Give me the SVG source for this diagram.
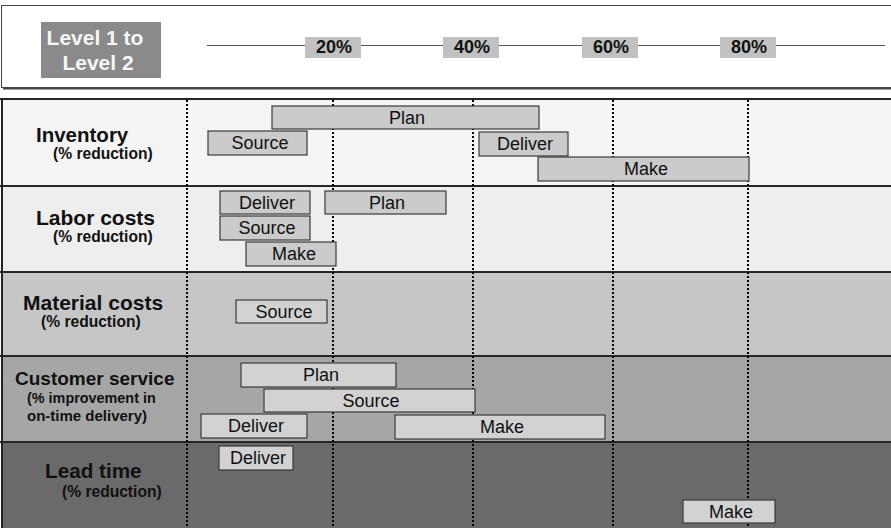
<svg xmlns="http://www.w3.org/2000/svg" width="891" height="528" viewBox="0 0 891 528">
  <style>
    .title { font-family: "Liberation Sans", Arial, sans-serif; font-weight: bold; fill: #111; }
    .sub { font-family: "Liberation Sans", Arial, sans-serif; font-weight: bold; fill: #111; }
    .pct { font-family: "Liberation Sans", Arial, sans-serif; font-weight: bold; font-size: 18px; fill: #111; text-anchor: middle; }
    .pctbox { fill: #c1c1c1; }
    .bar { stroke: #3a3a3a; stroke-width: 1.2; }
    .bar-a { fill: #cbcbcb; }
    .bar-b { fill: #d2d2d2; }
    .barlabel { font-family: "Liberation Sans", Arial, sans-serif; font-size: 18px; fill: #111; text-anchor: middle; }
    .divider { stroke: #262626; stroke-width: 2; }
    .grid { stroke: #000; stroke-width: 2; stroke-dasharray: 2 2; }
  </style>

  <rect width="891" height="528" fill="#ffffff"/>

  <!-- header panel with drop shadow -->
  <g id="header">
    <rect x="3" y="7.5" width="900" height="82" fill="#444"/>
    <rect x="1.5" y="5.5" width="900" height="82" fill="#ffffff" stroke="#444" stroke-width="1"/>
    <rect x="41" y="22" width="120" height="56" fill="#8a8a8a"/>
    <text x="95" y="45" font-family="'Liberation Sans', Arial, sans-serif" font-weight="bold" font-size="21" fill="#f6f6f6" text-anchor="middle">Level 1 to</text>
    <text x="98" y="70" font-family="'Liberation Sans', Arial, sans-serif" font-weight="bold" font-size="21" fill="#f6f6f6" text-anchor="middle">Level 2</text>
  </g>

  <!-- percentage scale -->
  <g id="axis">
    <line x1="207" y1="45.5" x2="885" y2="45.5" stroke="#555" stroke-width="1.2"/>
    <g id="tick-20"><rect class="pctbox" x="305" y="37" width="56" height="21"/><text class="pct" x="334" y="53">20%</text></g>
    <g id="tick-40"><rect class="pctbox" x="443" y="37" width="56" height="21"/><text class="pct" x="472" y="53">40%</text></g>
    <g id="tick-60"><rect class="pctbox" x="582" y="37" width="56" height="21"/><text class="pct" x="611" y="53">60%</text></g>
    <g id="tick-80"><rect class="pctbox" x="720" y="37" width="56" height="21"/><text class="pct" x="749" y="53">80%</text></g>
  </g>

  <!-- row backgrounds -->
  <g id="rows">
    <rect x="2" y="99" width="889" height="87" fill="#f4f4f4"/>
    <rect x="2" y="186" width="889" height="86" fill="#eeeeee"/>
    <rect x="2" y="272" width="889" height="84" fill="#c6c6c6"/>
    <rect x="2" y="356" width="889" height="86" fill="#a6a6a6"/>
    <rect x="2" y="442" width="889" height="86" fill="#6a6a6a"/>
    <line class="divider" x1="0" y1="99" x2="891" y2="99"/>
    <line class="divider" x1="0" y1="186" x2="891" y2="186"/>
    <line class="divider" x1="0" y1="272" x2="891" y2="272"/>
    <line class="divider" x1="0" y1="356" x2="891" y2="356"/>
    <line class="divider" x1="0" y1="442" x2="891" y2="442"/>
    <line x1="2" y1="98" x2="2" y2="528" stroke="#222" stroke-width="2"/>
  </g>

  <!-- dotted grid lines -->
  <g id="grid">
    <line class="grid" x1="187" y1="100" x2="187" y2="528"/>
    <line class="grid" x1="333" y1="100" x2="333" y2="528"/>
    <line class="grid" x1="473" y1="100" x2="473" y2="528"/>
    <line class="grid" x1="613" y1="100" x2="613" y2="528"/>
    <line class="grid" x1="748" y1="100" x2="748" y2="528"/>
  </g>

  <!-- row: Inventory -->
  <g id="inventory">
    <text class="title" x="36" y="142" font-size="20.5">Inventory</text>
    <text class="sub" x="53" y="159" font-size="15.6">(% reduction)</text>
    <g id="inventory-plan"><rect class="bar bar-a" x="272" y="106" width="267" height="23"/><text class="barlabel" x="407" y="124">Plan</text></g>
    <g id="inventory-source"><rect class="bar bar-a" x="208" y="131" width="99" height="24"/><text class="barlabel" x="260" y="149">Source</text></g>
    <g id="inventory-deliver"><rect class="bar bar-a" x="479" y="132" width="89" height="24"/><text class="barlabel" x="525" y="150">Deliver</text></g>
    <g id="inventory-make"><rect class="bar bar-a" x="538" y="157" width="211" height="24"/><text class="barlabel" x="646" y="175">Make</text></g>
  </g>

  <!-- row: Labor costs -->
  <g id="labor">
    <text class="title" x="36" y="225" font-size="21">Labor costs</text>
    <text class="sub" x="53" y="242" font-size="15.6">(% reduction)</text>
    <g id="labor-deliver"><rect class="bar bar-a" x="220" y="191" width="90" height="23"/><text class="barlabel" x="267" y="209">Deliver</text></g>
    <g id="labor-plan"><rect class="bar bar-a" x="325" y="191" width="121" height="23"/><text class="barlabel" x="387" y="209">Plan</text></g>
    <g id="labor-source"><rect class="bar bar-a" x="220" y="216" width="90" height="24"/><text class="barlabel" x="267" y="234">Source</text></g>
    <g id="labor-make"><rect class="bar bar-a" x="246" y="242" width="90" height="24"/><text class="barlabel" x="294" y="260">Make</text></g>
  </g>

  <!-- row: Material costs -->
  <g id="material">
    <text class="title" x="23" y="310" font-size="21">Material costs</text>
    <text class="sub" x="41" y="327" font-size="15.6">(% reduction)</text>
    <g id="material-source"><rect class="bar bar-b" x="236" y="300" width="91" height="23"/><text class="barlabel" x="284" y="318">Source</text></g>
  </g>

  <!-- row: Customer service -->
  <g id="customer">
    <text class="title" x="15" y="385" font-size="19">Customer service</text>
    <text class="sub" x="27" y="403" font-size="14.4">(% improvement in</text>
    <text class="sub" x="27" y="421" font-size="15">on-time delivery)</text>
    <g id="customer-plan"><rect class="bar bar-b" x="241" y="363" width="155" height="24"/><text class="barlabel" x="321" y="381">Plan</text></g>
    <g id="customer-source"><rect class="bar bar-b" x="264" y="389" width="211" height="23"/><text class="barlabel" x="371" y="407">Source</text></g>
    <g id="customer-deliver"><rect class="bar bar-b" x="201" y="414" width="106" height="24"/><text class="barlabel" x="256" y="432">Deliver</text></g>
    <g id="customer-make"><rect class="bar bar-b" x="395" y="415" width="210" height="24"/><text class="barlabel" x="502" y="433">Make</text></g>
  </g>

  <!-- row: Lead time -->
  <g id="leadtime">
    <text class="title" x="45" y="478" font-size="20.7">Lead time</text>
    <text class="sub" x="62" y="497" font-size="15.6">(% reduction)</text>
    <g id="lead-deliver"><rect class="bar bar-b" x="219" y="446" width="74" height="24"/><text class="barlabel" x="258" y="464">Deliver</text></g>
    <g id="lead-make"><rect class="bar bar-b" x="683" y="500" width="92" height="23"/><text class="barlabel" x="731" y="518">Make</text></g>
  </g>
</svg>
